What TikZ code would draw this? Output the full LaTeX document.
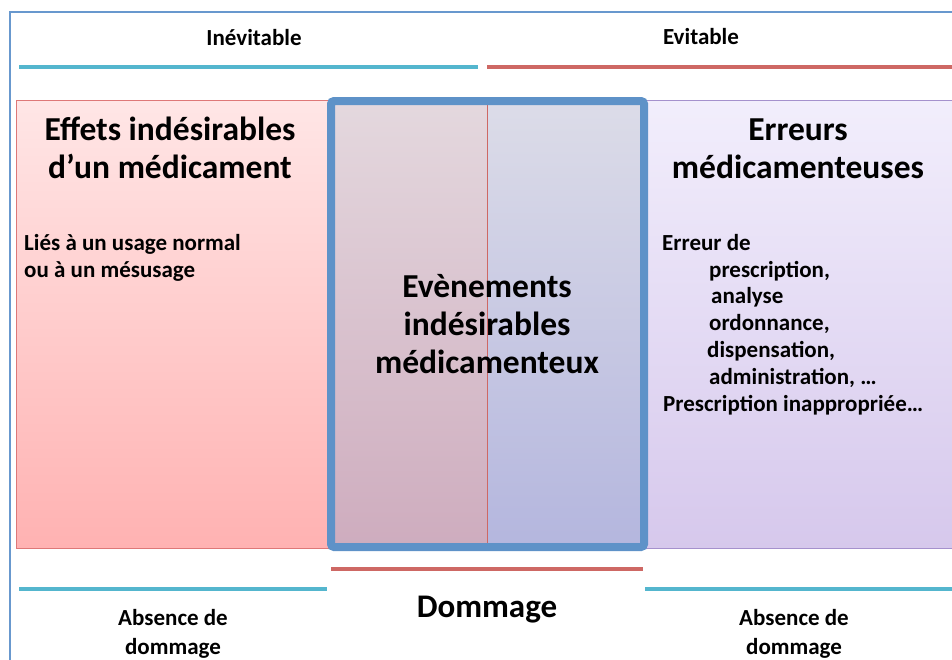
\documentclass[tikz,border=0pt]{standalone}
\usepackage{fontspec}
\setmainfont{Carlito}
\usepackage{tikz}
\usetikzlibrary{positioning,calc}

\definecolor{cadre}{RGB}{104,152,206}
\definecolor{barcyan}{RGB}{84,182,206}
\definecolor{barred}{RGB}{206,104,100}
\definecolor{bordblue}{RGB}{94,146,200}

\begin{document}
\begin{tikzpicture}[x=1pt,y=-1pt,
  big/.style={font=\fontsize{33.5}{38}\selectfont\bfseries,align=center,inner sep=0pt,anchor=base},
  small/.style={font=\fontsize{23}{26.7}\selectfont\bfseries,inner sep=0pt,anchor=base west},
  mid/.style={font=\fontsize{23}{29}\selectfont\bfseries,align=center,inner sep=0pt,anchor=base},
  bar/.style={line width=4pt}]
\useasboundingbox (0,0) rectangle (952,659);
\clip (0,0) rectangle (952,659);
% cadre
\draw[cadre,line width=1.5pt] (10,700) -- (10,12) -- (1000,12);
% bandeaux du haut
\coordinate (h1) at (19,67);
\coordinate (h2) at (478,67);
\coordinate (h3) at (487,67);
\coordinate (h4) at (960,67);
\draw[bar,barcyan] (h1) -- (h2);
\draw[bar,barred] (h3) -- (h4);
\node[mid] (inev) at (254,45) {Inévitable};
\node[mid] (evit) at (701,44) {Evitable};
% les trois zones
\shade[top color={rgb,255:red,255;green,230;blue,230},bottom color={rgb,255:red,255;green,178;blue,178},draw={rgb,255:red,222;green,120;blue,120}] (16,100) rectangle (330,548);
\shade[top color={rgb,255:red,242;green,238;blue,252},bottom color={rgb,255:red,214;green,200;blue,236},draw={rgb,255:red,165;green,145;blue,205}] (644,100) rectangle (970,548);
\shade[top color={rgb,255:red,228;green,216;blue,222},bottom color={rgb,255:red,206;green,172;blue,190}] (331,101) rectangle (487,547);
\shade[top color={rgb,255:red,220;green,220;blue,232},bottom color={rgb,255:red,180;green,182;blue,222}] (487,101) rectangle (644,547);
\draw[barred,line width=1pt] (487,101) -- (487,547);
\draw[bordblue,line width=8pt,rounded corners=3pt] (331,101) rectangle (644,547);
% textes (base = derniere ligne)
\node[big] (eff) at (170,178) {Effets indésirables\\d’un médicament};
\node[big] (err) at (798,178) {Erreurs\\médicamenteuses};
\node[big] (eim) at (487,373) {Evènements\\indésirables\\médicamenteux};
\node[small] (lie1) at (24,250) {Liés à un usage normal};
\node[small] (lie2) at (24,277) {ou à un mésusage};
\foreach \x/\y/\t [count=\i] in {662/250/{Erreur de},709/277/{prescription,},711/303/{analyse},709/330/{ordonnance,},707/357/{dispensation,},709/384/{administration, …},663/411/{Prescription inappropriée…}}
  \node[small] (e\i) at (\x,\y) {\t};
% bandeaux du bas
\coordinate (b1) at (331,569);
\coordinate (b2) at (643,569);
\draw[bar,barred] (b1) -- (b2);
\draw[bar,barcyan] (19,589) -- (327,589);
\draw[bar,barcyan] (645,589) -- (960,589);
\node[font=\fontsize{33}{38}\selectfont\bfseries,inner sep=0pt,anchor=base] (dom) at (487,617) {Dommage};
\node[mid] (abs1) at (173,654) {Absence de\\dommage};
\node[mid] (abs2) at (794,654) {Absence de\\dommage};
\end{tikzpicture}
\end{document}
